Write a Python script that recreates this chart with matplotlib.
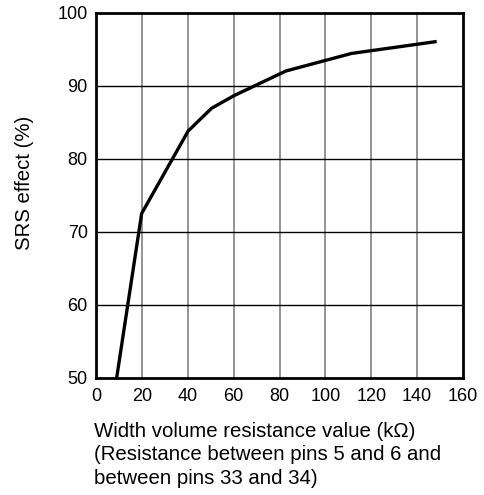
import matplotlib
matplotlib.use("Agg")
import matplotlib.pyplot as plt

resistance_k = [9.0, 19.9, 40.2, 50.4, 60.0, 82.8, 111.4, 147.8]
srs_effect = [50.0, 72.5, 83.8, 86.9, 88.6, 92.0, 94.4, 96.0]
x_ticks = [0, 20, 40, 60, 80, 100, 120, 140, 160]
y_ticks = [50, 60, 70, 80, 90, 100]

plt.rcParams['font.family'] = ['Liberation Sans', 'DejaVu Sans']

fig = plt.figure(figsize=(4.84, 4.95), dpi=100)
ax = fig.add_axes([96/484, 1-378/495, (463-96)/484, (378-12.5)/495])

for xv in x_ticks[1:-1]:
    ax.axvline(xv, color='#808080', lw=1.2, zorder=1)
for yv in y_ticks[1:-1]:
    ax.axhline(yv, color='black', lw=1.0, zorder=1)

ax.plot(resistance_k, srs_effect, color='black', lw=2.4, zorder=3,
        solid_joinstyle='miter', clip_on=False)

ax.set_xlim(0, 160)
ax.set_ylim(50, 100)
ax.set_xticks(x_ticks)
ax.set_yticks(y_ticks)
ax.tick_params(length=0, labelsize=13)
ax.tick_params(axis='x', pad=7.5)
ax.tick_params(axis='y', pad=6)
for s in ax.spines.values():
    s.set_linewidth(2)

fig.text(24/484, 1-183/495, 'SRS effect (%)', rotation=90, ha='center', va='center', fontsize=14.7)
fig.text(94/484, 1-455/495,
         'Width volume resistance value (k\u03a9)\n(Resistance between pins 5 and 6 and\nbetween pins 33 and 34)',
         ha='left', va='center', fontsize=14.7, linespacing=1.32)

fig.savefig('out.png', dpi=100)
